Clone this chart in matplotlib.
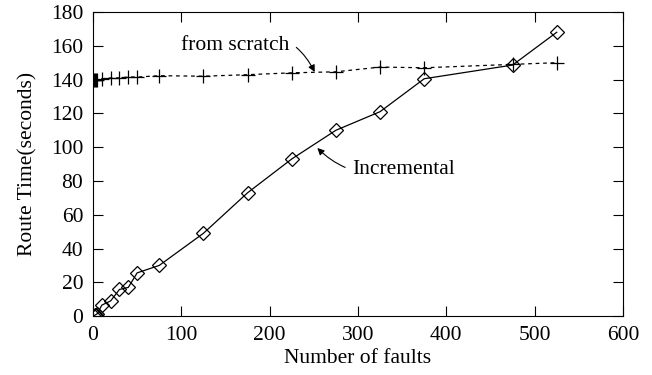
import matplotlib.pyplot as plt
import numpy as np

# fault counts
faults = [1, 2, 3, 5, 10, 20, 30, 40, 50, 75, 125, 175, 225, 275, 325, 375, 475, 525]

# route time (seconds)
incremental = [0.3, 0.5, 0.8, 1.5, 6.5, 9, 15.8, 17, 25.6, 30, 49, 73, 93, 110, 121, 140.5, 148.6, 168]
from_scratch = [139.5, 139.5, 139.6, 139.8, 140.5, 141, 141, 141.5, 141.5, 142.3, 142, 142.9, 144, 144.6, 147.4, 147, 149, 150]

plt.rcParams['font.family'] = ['Liberation Serif', 'DejaVu Serif']
plt.rcParams['font.size'] = 15.5

fig = plt.figure(figsize=(6.52, 3.75), dpi=100)
ax = fig.add_axes([0.1426, 0.157, 0.8129, 0.811])

ax.plot(faults, incremental, color='black', lw=0.9, marker='D', ms=7.5,
        mfc='none', mec='black', mew=0.9)
ax.plot(faults, from_scratch, color='black', lw=0.9, ls=(0, (3, 3)), marker='+',
        ms=10, mew=0.9)

ax.set_xlim(0, 600)
ax.set_ylim(0, 180)
ax.set_xticks(np.arange(0, 601, 100))
ax.set_yticks(np.arange(0, 181, 20))
ax.tick_params(direction='in', top=True, right=True, length=7, width=0.8)
ax.tick_params(axis='x', pad=7)
ax.tick_params(axis='y', pad=7)
ax.set_xlabel('Number of faults', labelpad=3)
ax.set_ylabel('Route Time(seconds)', labelpad=10)

ax.annotate('from scratch', xy=(251, 144.5), xytext=(222, 160),
            ha='right', va='center',
            arrowprops=dict(arrowstyle='-|>', color='black', lw=0.8,
                            connectionstyle='arc3,rad=-0.5', mutation_scale=10,
                            shrinkA=4, shrinkB=0))
ax.annotate('Incremental', xy=(254, 99.5), xytext=(293, 87),
            ha='left', va='center',
            arrowprops=dict(arrowstyle='-|>', color='black', lw=0.8,
                            connectionstyle='arc3,rad=-0.3', mutation_scale=10,
                            shrinkA=3, shrinkB=0))

fig.savefig('out.png', dpi=100)
